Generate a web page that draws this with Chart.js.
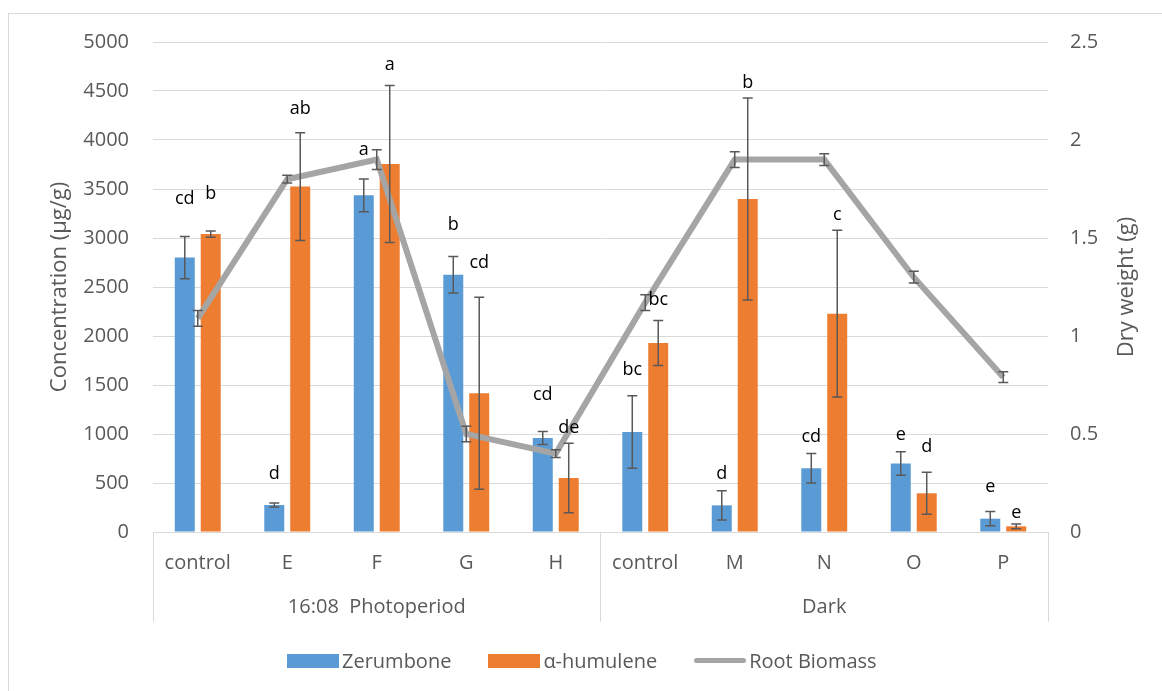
<!DOCTYPE html>
<html>
<head>
<meta charset="utf-8">
<script src="https://cdn.jsdelivr.net/npm/chart.js@4.4.1/dist/chart.umd.min.js"></script>
<style>
  html, body { margin: 0; padding: 0; background: #fff; }
  #wrap { position: relative; width: 1162px; height: 691px; overflow: hidden; font-family: "Open Sans", sans-serif; }
  #frame { position: absolute; left: 8px; top: 13px; width: 1200px; height: 720px; border: 1px solid #d9d9d9; box-sizing: border-box; }
  canvas { position: absolute; left: 0; top: 0; }
  #legend { position: absolute; left: 287px; top: 647px; display: flex; align-items: center; font-size: 20px; color: #595959; white-space: nowrap; }
  .item { display: flex; align-items: center; margin-right: 37px; }
  .swatch { width: 52px; height: 14px; margin-right: 3px; }
  .swatch.line { height: 5px; border-radius: 3px; }
</style>
</head>
<body>
<div id="wrap">
  <div id="frame"></div>
  <canvas id="chart" width="1162" height="691"></canvas>
  <div id="legend"></div>
</div>
<script>
// categories and groups on the x axis
const categories = ["control", "E", "F", "G", "H", "control", "M", "N", "O", "P"];
const groups = ["16:08  Photoperiod", "Dark"];

// Zerumbone (µg/g) with SE and letters
const zerumbone = [2800, 275, 3435, 2625, 960, 1020, 272, 650, 700, 136];
const zerumboneErr = [215, 20, 167, 185, 66, 370, 150, 150, 120, 73];
const zerumboneLetters = ["cd", "d", "a", "b", "cd", "bc", "d", "cd", "e", "e"];
const zerumboneLetterY = [3400, 590, 3900, 3130, 1400, 1650, 590, 970, 990, 460];

// alpha-humulene (µg/g)
const humulene = [3040, 3525, 3755, 1415, 551, 1929, 3398, 2228, 395, 58];
const humuleneErr = [32, 550, 800, 980, 355, 230, 1030, 850, 215, 24];
const humuleneLetters = ["b", "ab", "a", "cd", "de", "bc", "b", "c", "d", "e"];
const humuleneLetterY = [3455, 4315, 4765, 2745, 1060, 2365, 4585, 3240, 870, 195];

// root biomass, dry weight (g)
const biomass = [1.09, 1.8, 1.9, 0.5, 0.4, 1.17, 1.9, 1.9, 1.3, 0.79];
const biomassErr = [0.04, 0.02, 0.05, 0.04, 0.02, 0.04, 0.04, 0.03, 0.03, 0.027];

const rightTitle = "Dry weight (g)";

const gridColor = "#d9d9d9";
const textColor = "#595959";
const fontFamily = "'Open Sans', sans-serif";

// error bars for every dataset
const errorBars = {
  id: "errorBars",
  afterDatasetsDraw(chart) {
    const ctx = chart.ctx;
    ctx.save();
    ctx.strokeStyle = "#595959";
    ctx.lineWidth = 1.5;
    chart.data.datasets.forEach((ds, i) => {
      const meta = chart.getDatasetMeta(i);
      const yScale = chart.scales[ds.yAxisID];
      meta.data.forEach((el, j) => {
        const v = ds.data[j], e = ds.errors[j];
        const top = yScale.getPixelForValue(v + e);
        const bot = yScale.getPixelForValue(v - e);
        const x = el.x, cap = 5;
        ctx.beginPath();
        ctx.moveTo(x, top); ctx.lineTo(x, bot);
        ctx.moveTo(x - cap, top); ctx.lineTo(x + cap, top);
        ctx.moveTo(x - cap, bot); ctx.lineTo(x + cap, bot);
        ctx.stroke();
      });
    });
    ctx.restore();
  }
};

// significance letters above the bars
const letterLabels = {
  id: "letterLabels",
  afterDatasetsDraw(chart) {
    const ctx = chart.ctx;
    ctx.save();
    ctx.fillStyle = "#000";
    ctx.font = "18px " + fontFamily;
    ctx.textAlign = "center";
    ctx.textBaseline = "middle";
    chart.data.datasets.forEach((ds, i) => {
      if (!ds.letters) return;
      const meta = chart.getDatasetMeta(i);
      const yScale = chart.scales[ds.yAxisID];
      meta.data.forEach((el, j) => {
        ctx.fillText(ds.letters[j], el.x, yScale.getPixelForValue(ds.letterY[j]));
      });
    });
    ctx.restore();
  }
};

// right axis title, read bottom-to-top like the left one
const rightAxisTitle = {
  id: "rightAxisTitle",
  afterDraw(chart) {
    const s = chart.scales.y1;
    const ctx = chart.ctx;
    ctx.save();
    ctx.fillStyle = textColor;
    ctx.font = "22px " + fontFamily;
    ctx.textAlign = "center";
    ctx.textBaseline = "middle";
    ctx.translate(s.right - 13, (s.top + s.bottom) / 2);
    ctx.rotate(-Math.PI / 2);
    ctx.fillText(rightTitle, 0, 0);
    ctx.restore();
  }
};

const chart = new Chart(document.getElementById("chart"), {
  data: {
    labels: categories,
    datasets: [
      {
        type: "line",
        label: "Root Biomass",
        data: biomass,
        errors: biomassErr,
        yAxisID: "y1",
        borderColor: "#a5a5a5",
        backgroundColor: "#a5a5a5",
        borderWidth: 6,
        pointRadius: 0,
        tension: 0,
        order: 0
      },
      {
        type: "bar",
        label: "Zerumbone",
        data: zerumbone,
        errors: zerumboneErr,
        letters: zerumboneLetters,
        letterY: zerumboneLetterY,
        yAxisID: "y",
        backgroundColor: "#5b9bd5",
        categoryPercentage: 0.58,
        barPercentage: 0.77,
        order: 1
      },
      {
        type: "bar",
        label: "α-humulene",
        data: humulene,
        errors: humuleneErr,
        letters: humuleneLetters,
        letterY: humuleneLetterY,
        yAxisID: "y",
        backgroundColor: "#ed7d31",
        categoryPercentage: 0.58,
        barPercentage: 0.77,
        order: 1
      }
    ]
  },
  options: {
    responsive: false,
    animation: false,
    layout: { padding: { left: 47, right: 22, top: 42, bottom: 66 } },
    plugins: {
      legend: { display: false },
      tooltip: { enabled: false }
    },
    scales: {
      x: {
        type: "category",
        offset: true,
        grid: {
          offset: true,
          drawOnChartArea: false,
          tickLength: 45,
          // only the group separators (first, middle and last line)
          color: (c) => (c.index === undefined || c.index % 5 === 0) ? gridColor : "rgba(0,0,0,0)"
        },
        border: { display: true, color: gridColor },
        ticks: { color: textColor, font: { size: 20, family: fontFamily }, padding: -26, maxRotation: 0, autoSkip: false },
        afterFit: (s) => { s.height = 43; }
      },
      x2: {
        type: "category",
        labels: groups,
        position: "bottom",
        offset: true,
        grid: { offset: true, drawOnChartArea: false, tickLength: 47, color: gridColor },
        border: { display: false },
        ticks: { color: textColor, font: { size: 20, family: fontFamily }, padding: -27, maxRotation: 0 },
        afterFit: (s) => { s.height = 50; }
      },
      y: {
        position: "left",
        min: 0,
        max: 5000,
        ticks: { stepSize: 500, color: textColor, font: { size: 20, family: fontFamily }, padding: 24, callback: (v) => String(v) },
        grid: { color: gridColor, drawTicks: false },
        border: { display: false },
        title: { display: true, text: "Concentration (µg/g)", color: textColor, font: { size: 22, family: fontFamily }, padding: 0 },
        afterFit: (s) => { s.width = 106; }
      },
      y1: {
        position: "right",
        min: 0,
        max: 2.5,
        ticks: { stepSize: 0.5, color: textColor, font: { size: 20, family: fontFamily }, padding: 22, callback: (v) => String(v) },
        grid: { drawOnChartArea: false, drawTicks: false },
        border: { display: false },
        afterFit: (s) => { s.width = 92; }
      }
    }
  },
  plugins: [errorBars, letterLabels, rightAxisTitle]
});

// legend in the same order as the reference
const legend = document.getElementById("legend");
[chart.data.datasets[1], chart.data.datasets[2], chart.data.datasets[0]].forEach((ds) => {
  const item = document.createElement("div");
  item.className = "item";
  const sw = document.createElement("span");
  sw.className = ds.type === "line" ? "swatch line" : "swatch";
  sw.style.background = ds.backgroundColor;
  const txt = document.createElement("span");
  txt.textContent = ds.label;
  item.appendChild(sw);
  item.appendChild(txt);
  legend.appendChild(item);
});
</script>
</body>
</html>
